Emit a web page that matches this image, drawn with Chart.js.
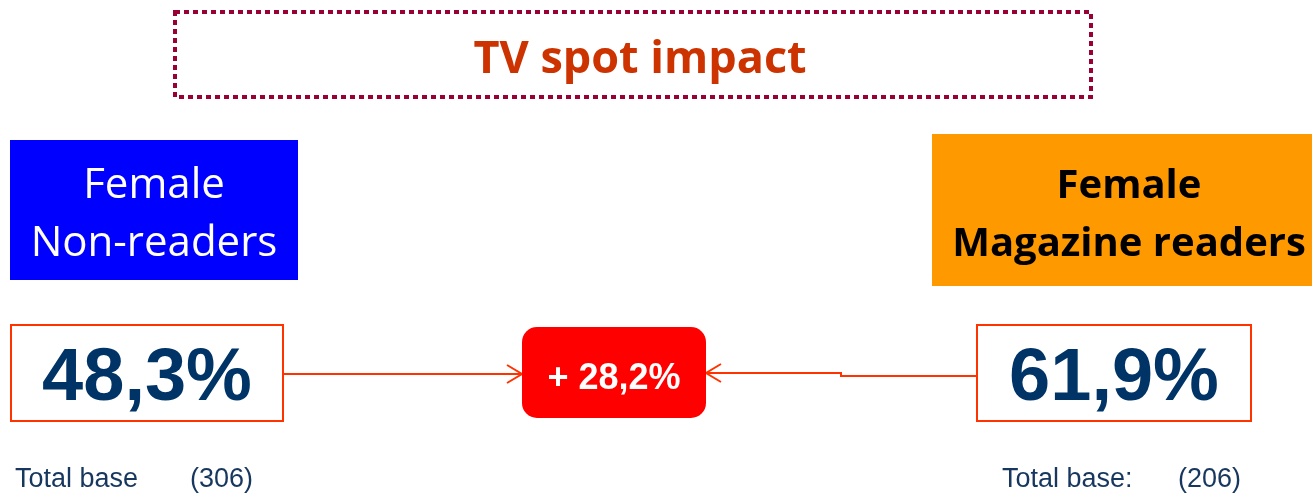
<!DOCTYPE html>
<html>
<head>
<meta charset="utf-8">
<script src="https://cdn.jsdelivr.net/npm/chart.js@4/dist/chart.umd.min.js"></script>
<style>
html,body{margin:0;padding:0;background:#fff;}
#wrap{width:1312px;height:494px;position:relative;}
</style>
</head>
<body>
<div id="wrap"><canvas id="c"></canvas></div>
<script>
// ---- data ----
const title = 'TV spot impact';
const groupLines = [['Female', 'Non-readers'], ['Female', 'Magazine readers']];
const rates = [48.3, 61.9];          // % impact per group
const bases = [306, 206];            // sample sizes
const baseLabels = ['Total base', 'Total base:'];
const uplift = (rates[1] / rates[0] - 1) * 100;   // +28.2%

const fmt = v => v.toFixed(1).replace('.', ',') + '%';

// ---- layout (positions / styles, in canvas units) ----
const L = {
  titleBox: {x1: 175, y1: 12, x2: 1091, y2: 97},
  groupBox: [{x1: 10, y1: 140, x2: 298, y2: 280, cx: 154, fill: '#0000FF', color: '#FFFFFF', weight: 'normal', size: 42},
             {x1: 932, y1: 134, x2: 1312, y2: 286, cx: 1129, fill: '#FF9900', color: '#000000', weight: 'bold', size: 40}],
  valBox: [{x1: 11, y1: 325, x2: 283, y2: 421}, {x1: 977, y1: 325, x2: 1251, y2: 421}],
  midBox: {x1: 522, y1: 327, x2: 706, y2: 418, r: 15},
  baseText: [{x: 15, xn: 190, y: 487}, {x: 1002, xn: 1178, y: 487}]
};

const drawPlugin = {
  id: 'infographic',
  afterDraw(chart) {
    const ctx = chart.ctx;
    const sx = chart.scales.x, sy = chart.scales.y;
    const X = v => sx.getPixelForValue(v);
    const Y = v => sy.getPixelForValue(v);
    ctx.save();

    // title box (dotted)
    const tb = L.titleBox;
    ctx.strokeStyle = '#990033';
    ctx.lineWidth = 4;
    ctx.setLineDash([5, 4]);
    ctx.strokeRect(X(tb.x1), Y(tb.y1), X(tb.x2) - X(tb.x1), Y(tb.y2) - Y(tb.y1));
    ctx.setLineDash([]);
    ctx.fillStyle = '#CC3300';
    ctx.font = 'bold 45px "Open Sans"';
    ctx.textAlign = 'center';
    ctx.textBaseline = 'alphabetic';
    ctx.fillText(title, X(640), Y(73));

    // group boxes
    groupLines.forEach((lines, i) => {
      const b = L.groupBox[i];
      ctx.fillStyle = b.fill;
      ctx.fillRect(X(b.x1), Y(b.y1), X(b.x2) - X(b.x1), Y(b.y2) - Y(b.y1));
      ctx.fillStyle = b.color;
      ctx.font = b.weight + ' ' + b.size + 'px "Open Sans"';
      ctx.textAlign = 'center';
      ctx.fillText(lines[0], X(b.cx), Y(198));
      ctx.fillText(lines[1], X(b.cx), Y(256));
    });

    // connector lines + arrows
    ctx.strokeStyle = '#FF3300';
    ctx.lineWidth = 2;
    const m = L.midBox;
    ctx.beginPath();
    ctx.moveTo(X(L.valBox[0].x2), Y(374));
    ctx.lineTo(X(m.x1), Y(374));
    ctx.moveTo(X(m.x1) - 15, Y(374) - 9);
    ctx.lineTo(X(m.x1), Y(374));
    ctx.lineTo(X(m.x1) - 15, Y(374) + 9);
    ctx.stroke();
    ctx.beginPath();
    ctx.moveTo(X(L.valBox[1].x1), Y(376));
    ctx.lineTo(X(841), Y(376));
    ctx.lineTo(X(841), Y(373));
    ctx.lineTo(X(m.x2), Y(373));
    ctx.moveTo(X(m.x2) + 15, Y(373) - 9);
    ctx.lineTo(X(m.x2), Y(373));
    ctx.lineTo(X(m.x2) + 15, Y(373) + 9);
    ctx.stroke();

    // value boxes
    rates.forEach((r, i) => {
      const b = L.valBox[i];
      ctx.fillStyle = '#FFFFFF';
      ctx.fillRect(X(b.x1), Y(b.y1), X(b.x2) - X(b.x1), Y(b.y2) - Y(b.y1));
      ctx.strokeStyle = '#FF3300';
      ctx.lineWidth = 2;
      ctx.strokeRect(X(b.x1), Y(b.y1), X(b.x2) - X(b.x1), Y(b.y2) - Y(b.y1));
      ctx.fillStyle = '#003366';
      ctx.font = 'bold 74px "Liberation Sans", Arial';
      ctx.textAlign = 'center';
      ctx.fillText(fmt(r), X((b.x1 + b.x2) / 2), Y(400));
    });

    // middle uplift box
    ctx.fillStyle = '#FF0000';
    ctx.beginPath();
    ctx.roundRect(X(m.x1), Y(m.y1), X(m.x2) - X(m.x1), Y(m.y2) - Y(m.y1), m.r);
    ctx.fill();
    ctx.fillStyle = '#FFFFFF';
    ctx.font = 'bold 36px "Liberation Sans", Arial';
    ctx.textAlign = 'center';
    ctx.fillText('+ ' + fmt(uplift), X((m.x1 + m.x2) / 2), Y(389));

    // base texts
    ctx.fillStyle = '#17375E';
    ctx.font = '27px "Liberation Sans", Arial';
    ctx.textAlign = 'left';
    bases.forEach((n, i) => {
      const t = L.baseText[i];
      ctx.fillText(baseLabels[i], X(t.x), Y(t.y));
      ctx.fillText('(' + n + ')', X(t.xn), Y(t.y));
    });

    ctx.restore();
  }
};

new Chart(document.getElementById('c'), {
  type: 'scatter',
  data: {
    datasets: [{
      label: 'Impact',
      data: [],
      pointRadius: 0
    }]
  },
  options: {
    responsive: true,
    maintainAspectRatio: false,
    animation: false,
    events: [],
    layout: {padding: 0},
    plugins: {legend: {display: false}, tooltip: {enabled: false}},
    scales: {
      x: {type: 'linear', min: 0, max: 1312, display: false},
      y: {type: 'linear', min: 0, max: 494, reverse: true, display: false}
    }
  },
  plugins: [drawPlugin]
});
</script>
</body>
</html>
